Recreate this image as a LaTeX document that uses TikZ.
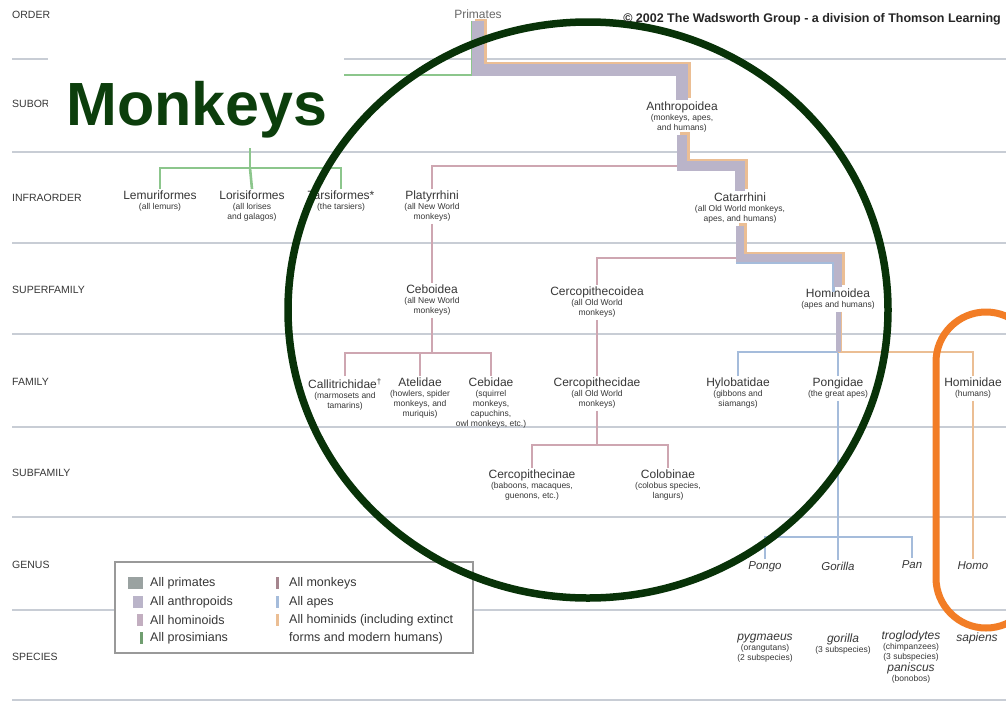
\documentclass[tikz,border=0pt]{standalone}
\usepackage{fontspec}
\setmainfont{Liberation Sans}

\definecolor{rulegray}{RGB}{200,205,213}
\definecolor{primgray}{RGB}{186,180,201}
\definecolor{monkpink}{RGB}{206,166,177}
\definecolor{apeblue}{RGB}{165,188,219}
\definecolor{homorange}{RGB}{235,190,148}
\definecolor{prosgreen}{RGB}{140,198,140}
\definecolor{monkgreen}{RGB}{12,62,12}
\definecolor{ringgreen}{RGB}{8,50,8}
\definecolor{looporange}{RGB}{242,125,38}
\definecolor{labgray}{RGB}{55,55,55}

\tikzset{
  rule/.style={rulegray, line width=1.6},
  rowlab/.style={anchor=west, inner sep=0, text=labgray, font=\fontsize{10.5}{12}\selectfont},
  taxon/.style={anchor=north, align=center, inner sep=2, text=labgray, font=\fontsize{12}{10}\selectfont},
  genus/.style={anchor=north, inner sep=2, text=labgray, font=\fontsize{11.5}{12}\selectfont\itshape},
  prosline/.style={prosgreen, line width=2.6},
  monkline/.style={monkpink, line width=2.6},
  apeline/.style={apeblue, line width=2.6},
  homline/.style={homorange, line width=2.6},
  band/.style={primgray, line width=#1},
  upright/.style={transform canvas={xshift=#1, yshift=#1}},
  legtext/.style={anchor=west, inner sep=0, text=labgray, font=\fontsize{12.5}{14}\selectfont},
}
\newcommand{\sub}[1]{{\fontsize{8.5}{8.8}\selectfont #1}}

\begin{document}
\begin{tikzpicture}[x=1pt, y=-1pt]
\fill[white] (0,0) rectangle (1006,702);
\useasboundingbox (0,0) rectangle (1006,702);
\clip (0,0) rectangle (1006,702);

% rules between the ranks
\foreach \y in {59,152,243,334,427,517,610,700}
  \draw[rule] (12,\y) -- (1006,\y);

% rank names
\foreach \y/\rank [count=\i] in {15/ORDER, 104/SUBORDER, 198/INFRAORDER, 290/SUPERFAMILY,
    382/FAMILY, 473/SUBFAMILY, 565/GENUS, 657/SPECIES}
  \node[rowlab] (rank\i) at (12,\y) {\rank};

% taxa
\node[taxon, text=labgray!75] (prim) at (478,8) {Primates};
\node[taxon] (anth) at (682,100) {Anthropoidea\\\sub{(monkeys, apes,}\\\sub{and humans)}};
\node[taxon] (lemur) at (160,189) {Lemuriformes\\\sub{(all lemurs)}};
\node[taxon] (loris) at (252,189) {Lorisiformes\\\sub{(all lorises}\\\sub{and galagos)}};
\node[taxon] (tarsi) at (341,189) {Tarsiformes*\\\sub{(the tarsiers)}};
\node[taxon] (platy) at (432,189) {Platyrrhini\\\sub{(all New World}\\\sub{monkeys)}};
\node[taxon] (catar) at (740,191) {Catarrhini\\\sub{(all Old World monkeys,}\\\sub{apes, and humans)}};
\node[taxon] (cebo) at (432,283) {Ceboidea\\\sub{(all New World}\\\sub{monkeys)}};
\node[taxon] (cerco) at (597,285) {Cercopithecoidea\\\sub{(all Old World}\\\sub{monkeys)}};
\node[taxon] (homoid) at (838,287) {Hominoidea\\\sub{(apes and humans)}};
\node[taxon] (calli) at (345,376) {Callitrichidae\textsuperscript{†}\\\sub{(marmosets and}\\\sub{tamarins)}};
\node[taxon] (ateli) at (420,376) {Atelidae\\\sub{(howlers, spider}\\\sub{monkeys, and}\\\sub{muriquis)}};
\node[taxon] (cebid) at (491,376) {Cebidae\\\sub{(squirrel}\\\sub{monkeys,}\\\sub{capuchins,}\\\sub{owl monkeys, etc.)}};
\node[taxon] (cercid) at (597,376) {Cercopithecidae\\\sub{(all Old World}\\\sub{monkeys)}};
\node[taxon] (hylo) at (738,376) {Hylobatidae\\\sub{(gibbons and}\\\sub{siamangs)}};
\node[taxon] (pongi) at (838,376) {Pongidae\\\sub{(the great apes)}};
\node[taxon] (homin) at (973,376) {Hominidae\\\sub{(humans)}};
\node[taxon] (cercinae) at (532,468) {Cercopithecinae\\\sub{(baboons, macaques,}\\\sub{guenons, etc.)}};
\node[taxon] (colob) at (668,468) {Colobinae\\\sub{(colobus species,}\\\sub{langurs)}};
\node[genus] (pongo) at (765,559) {Pongo};
\node[genus] (gori) at (838,560) {Gorilla};
\node[genus] (pan) at (912,558) {Pan};
\node[genus] (homo) at (973,559) {Homo};
\node[taxon] (pyg) at (765,632) {\textit{pygmaeus}\\\sub{(orangutans)}\\\sub{(2 subspecies)}};
\node[taxon] (gorsp) at (843,632) {\textit{gorilla}\\\sub{(3 subspecies)}};
\node[taxon] (trog) at (911,629) {\textit{troglodytes}\\\sub{(chimpanzees)}\\\sub{(3 subspecies)}\\\textit{paniscus}\\\sub{(bonobos)}};
\node[taxon] (sap) at (977,631) {\textit{sapiens}};

% forks
\coordinate (prosbend) at (250,75);
\coordinate (prosfork) at (250,168);
\coordinate (primbend) at (682,70);
\coordinate (anthfork) at (682,166);
\coordinate (catfork) at (740,258);
\coordinate (homfork) at (838,352);
\coordinate (pongfork) at (838,537);
\coordinate (cebfork) at (432,353);
\coordinate (cercfork) at (597,445);

% prosimians
\draw[prosline] ([xshift=-6pt]prim.south) |- (prosbend) -- (prosfork);
\draw[prosline] (lemur.north) |- (prosfork) -| (tarsi.north);
\draw[prosline] (prosfork) -- (loris.north);

% monkeys
\draw[monkline] (platy.north) |- (anthfork);
\draw[monkline] (cerco.north) |- (catfork);
\draw[monkline] (platy.south) -- (cebo.north);
\draw[monkline] (cebo.south) -- (cebfork);
\draw[monkline] (calli.north) |- (cebfork) -| (cebid.north);
\draw[monkline] (ateli.north) -- (ateli.north |- cebfork);
\draw[monkline] (cerco.south) -- (cercid.north);
\draw[monkline] (cercid.south) -- (cercfork);
\draw[monkline] (cercinae.north) |- (cercfork) -| (colob.north);

% apes
\draw[apeline, upright=-4.5pt] (catfork) -| (homoid.north);
\draw[apeline] (hylo.north) |- (homfork) -- (pongi.north);
\draw[apeline] (pongi.south) -- (pongfork);
\draw[apeline] (pongo.north) |- (pongfork) -| (pan.north);
\draw[apeline] (pongfork) -- (gori.north);

% hominids
\draw[homline] (homfork) -| (homin.north);
\draw[homline] (homin.south) -- (homo.north);

% thick stem: primates, anthropoids, hominoids
\draw[homorange, line width=12, upright=2.5pt] (prim.south) |- (primbend) -| (anth.north);
\draw[band=12] (prim.south) |- (primbend) -| (anth.north);
\draw[homorange, line width=10, upright=2.5pt] (anth.south) -- (anthfork) -| (catar.north);
\draw[band=10] (anth.south) -- (anthfork) -| (catar.north);
\draw[homorange, line width=8, upright=2.5pt] (catar.south) -- (catfork) -| (homoid.north);
\draw[band=8] (catar.south) -- (catfork) -| (homoid.north);
\draw[homorange, line width=5, transform canvas={xshift=1.5pt}] (homoid.south) -- (homfork);
\draw[band=5] (homoid.south) -- (homfork);

% title over the suborder row
\fill[white] (48,52) rectangle (344,148);
\node[anchor=base west, inner sep=0, text=monkgreen, font=\bfseries\fontsize{61}{61}\selectfont] (monk) at (66,125) {Monkeys};

% key
\draw[gray!80, line width=1.5, fill=white] (115,562) rectangle (473,653);
\fill[primgray!70!prosgreen!60!gray] (128,577) rectangle (143,589);
\fill[primgray] (133,596) rectangle (143,608);
\fill[primgray!60!monkpink] (137,614) rectangle (143,626);
\fill[prosgreen!80!black] (140,632) rectangle (143,644);
\fill[monkpink!80!black] (276,577) rectangle (279,589);
\fill[apeblue] (276,596) rectangle (279,608);
\fill[homorange] (276,614) rectangle (279,626);
\node[legtext] (kprim) at (150,583) {All primates};
\node[legtext] (kanth) at (150,602) {All anthropoids};
\node[legtext] (khoid) at (150,620) {All hominoids};
\node[legtext] (kpros) at (150,638) {All prosimians};
\node[legtext] (kmonk) at (289,583) {All monkeys};
\node[legtext] (kape) at (289,602) {All apes};
\node[legtext] (khomin) at (289,620) {All hominids (including extinct};
\node[legtext] (khomin2) at (289,638) {forms and modern humans)};

% rings
\draw[ringgreen, line width=7.5] (588,310) ellipse [x radius=300, y radius=288];
\draw[looporange, line width=7, rounded corners=50] (936,312) rectangle (1036,628);

\node[anchor=base east, inner sep=0, text=black!85, font=\bfseries\fontsize{12.5}{14}\selectfont] (credit) at (1001,22) {© 2002 The Wadsworth Group - a division of Thomson Learning};
\end{tikzpicture}
\end{document}
